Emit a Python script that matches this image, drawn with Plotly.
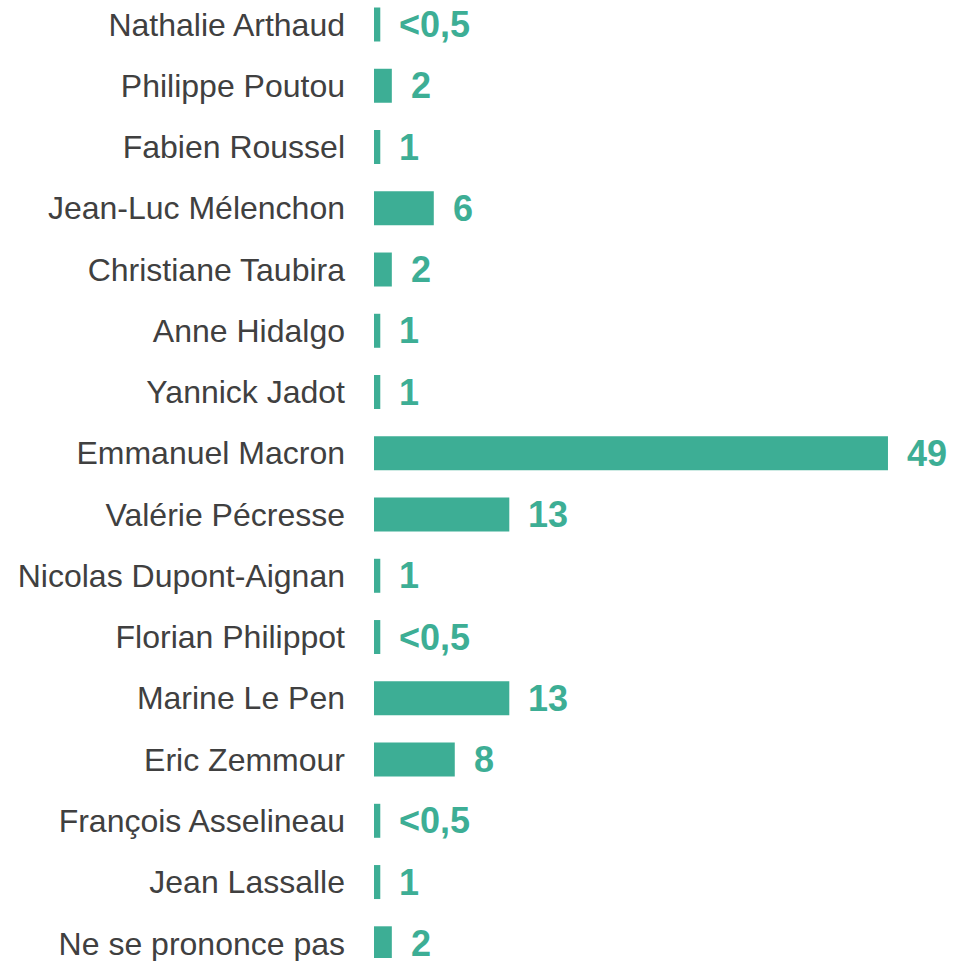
import plotly.graph_objects as go

categories = [
    "Nathalie Arthaud", "Philippe Poutou", "Fabien Roussel", "Jean-Luc Mélenchon",
    "Christiane Taubira", "Anne Hidalgo", "Yannick Jadot", "Emmanuel Macron",
    "Valérie Pécresse", "Nicolas Dupont-Aignan", "Florian Philippot", "Marine Le Pen",
    "Eric Zemmour", "François Asselineau", "Jean Lassalle", "Ne se prononce pas",
]
# bar lengths as drawn
values = [0.6, 1.7, 0.6, 5.7, 1.7, 0.6, 0.6, 49, 12.9, 0.6, 0.6, 12.9, 7.7, 0.6, 0.6, 1.7]
value_labels = ["<0,5", "2", "1", "6", "2", "1", "1", "49", "13", "1", "<0,5", "13", "8", "<0,5", "1", "2"]

BAR = "#3DAE95"

fig = go.Figure()
fig.add_trace(go.Bar(
    y=categories, x=values, orientation="h",
    marker=dict(color=BAR, line=dict(width=0)),
    hoverinfo="skip",
))
for c, v, t in zip(categories, values, value_labels):
    fig.add_annotation(
        x=v, y=c, xref="x", yref="y", text="<b>%s</b>" % t,
        showarrow=False, xanchor="left", yanchor="middle", xshift=17,
        font=dict(family="Liberation Sans, Arial", size=36, color=BAR),
    )

fig.update_layout(
    width=953, height=961,
    margin=dict(l=374, r=0, t=0, b=0),
    paper_bgcolor="white", plot_bgcolor="white",
    bargap=0.445,
    showlegend=False,
    font=dict(family="Liberation Sans, Arial", size=32, color="#404040"),
)
fig.update_yaxes(
    type="category", categoryorder="array", categoryarray=categories,
    range=[15.24, -0.4], showgrid=False, zeroline=False, showline=False,
    ticks="", ticklabelstandoff=28,
    tickfont=dict(family="Liberation Sans, Arial", size=32, color="#404040"),
)
fig.update_xaxes(range=[0, 55.2], visible=False, showgrid=False, zeroline=False)

fig.write_html("out.html", config={"displayModeBar": False})

with open("out.html", "r", encoding="utf-8") as f:
    html = f.read()
html = html.replace("<body>", '<body style="margin:0;overflow:hidden">', 1)
with open("out.html", "w", encoding="utf-8") as f:
    f.write(html)
